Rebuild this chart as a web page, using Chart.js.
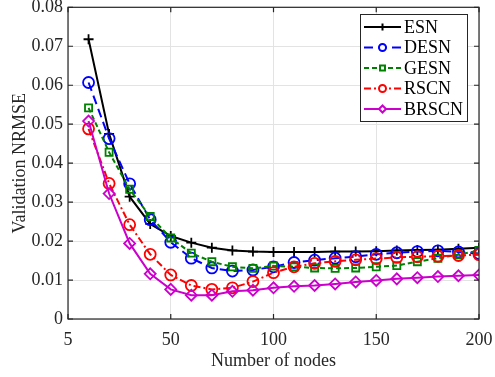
<!DOCTYPE html>
<html><head><meta charset="utf-8">
<script src="https://cdn.jsdelivr.net/npm/chart.js@4/dist/chart.umd.min.js"></script>
<style>html,body{margin:0;padding:0;background:#fff;}#wrap{width:495px;height:377px;}</style>
</head><body><div id="wrap"><canvas id="c" width="495" height="377"></canvas></div>
<script>
const nodes = [10,20,30,40,50,60,70,80,90,100,110,120,130,140,150,160,170,180,190,200];
const esn   = [0.0718,0.0475,0.0314,0.0244,0.0213,0.0196,0.0183,0.0176,0.0173,0.0172,0.0172,0.0172,0.0173,0.0173,0.0174,0.0176,0.0177,0.0178,0.0180,0.0183];
const desn  = [0.0607,0.0463,0.0347,0.0255,0.0197,0.0156,0.0131,0.0123,0.0126,0.0134,0.0145,0.0151,0.0156,0.0160,0.0166,0.0170,0.0173,0.0175,0.0172,0.0168];
const gesn  = [0.0542,0.0428,0.0333,0.0263,0.0208,0.0169,0.0147,0.0134,0.0130,0.0136,0.0134,0.0131,0.0130,0.0131,0.0134,0.0137,0.0147,0.0156,0.0165,0.0176];
const rscn  = [0.0488,0.0348,0.0242,0.0166,0.0113,0.0086,0.0076,0.0080,0.0096,0.0119,0.0134,0.0143,0.0148,0.0152,0.0155,0.0158,0.0160,0.0161,0.0163,0.0165];
const brscn = [0.0508,0.0322,0.0194,0.0116,0.0076,0.0061,0.0061,0.0071,0.0074,0.0080,0.0084,0.0086,0.0090,0.0095,0.0099,0.0103,0.0106,0.0109,0.0111,0.0113];
const seriesNames = ['ESN','DESN','GESN','RSCN','BRSCN'];
const xTickValues = [0,50,100,150,200];
const xTickLabels = ['5','50','100','150','200'];
const yTickValues = [0,0.01,0.02,0.03,0.04,0.05,0.06,0.07,0.08];
const yTickLabels = ['0','0.01','0.02','0.03','0.04','0.05','0.06','0.07','0.08'];

const FONT = '"Liberation Serif", "Times New Roman", serif';
const AX = '#262626';
const pts = arr => arr.map((v,i)=>({x:nodes[i], y:v}));

const styles = [
  {color:'#000000', dash:[], pointStyle:'cross', r:5, order:5},
  {color:'#0000ff', dash:[9,5], pointStyle:'circle', r:5.5, order:4},
  {color:'#008000', dash:[5,3], pointStyle:'rect', r:5, order:3},
  {color:'#ff0000', dash:[7,3,2,3], pointStyle:'circle', r:5.5, order:2},
  {color:'#cc00cc', dash:[], pointStyle:'rectRot', r:5.5, order:1}
];
const values = [esn, desn, gesn, rscn, brscn];
const datasets = values.map((v,i)=>({
  label: seriesNames[i], data: pts(v),
  borderColor: styles[i].color, backgroundColor: '#ffffff',
  borderWidth: 2, borderDash: styles[i].dash,
  pointStyle: styles[i].pointStyle, pointRadius: styles[i].r,
  pointBorderWidth: 1.8, pointBorderColor: styles[i].color,
  pointBackgroundColor: 'rgba(255,255,255,0)', tension: 0, order: styles[i].order
}));

const framePlugin = {
  id: 'frame',
  afterDraw(chart) {
    const {ctx, chartArea: a, scales: {x, y}} = chart;
    ctx.save();
    ctx.strokeStyle = AX; ctx.lineWidth = 1.2; ctx.setLineDash([]);
    ctx.strokeRect(a.left, a.top, a.right - a.left, a.bottom - a.top);
    const L = 5;
    ctx.beginPath();
    xTickValues.forEach(v => {
      const px = x.getPixelForValue(v);
      ctx.moveTo(px, a.bottom); ctx.lineTo(px, a.bottom - L);
      ctx.moveTo(px, a.top); ctx.lineTo(px, a.top + L);
    });
    yTickValues.forEach(v => {
      const py = y.getPixelForValue(v);
      ctx.moveTo(a.left, py); ctx.lineTo(a.left + L, py);
      ctx.moveTo(a.right, py); ctx.lineTo(a.right - L, py);
    });
    ctx.stroke();
    // legend
    const bx = 360, by = 14, bw = 107, bh = 107;
    ctx.fillStyle = '#fff';
    ctx.fillRect(bx, by, bw, bh);
    ctx.strokeStyle = AX; ctx.lineWidth = 1;
    ctx.strokeRect(bx + 0.5, by + 0.5, bw, bh);
    const rowH = 20.5;
    chart.data.datasets.forEach((ds, i) => {
      const cy = by + 13 + i * rowH;
      ctx.strokeStyle = ds.borderColor; ctx.lineWidth = 2;
      ctx.setLineDash(ds.borderDash);
      ctx.beginPath(); ctx.moveTo(bx + 4, cy); ctx.lineTo(bx + 41, cy); ctx.stroke();
      ctx.setLineDash([]);
      ctx.fillStyle = '#fff';
      ctx.lineWidth = 2;
      Chart.helpers.drawPoint(ctx, {pointStyle: ds.pointStyle, radius: 3.5, borderWidth: 2, rotation: 0}, bx + 22.5, cy);
      ctx.fillStyle = '#000';
      ctx.font = '18px ' + FONT;
      ctx.textBaseline = 'middle'; ctx.textAlign = 'left';
      ctx.fillText(ds.label, bx + 44, cy + 1);
    });
    ctx.restore();
  }
};

new Chart(document.getElementById('c'), {
  type: 'line',
  data: { datasets },
  options: {
    responsive: false, animation: false, devicePixelRatio: 1,
    layout: { padding: { top: 4, right: 16, left: 9, bottom: 5 } },
    plugins: { legend: { display: false }, tooltip: { enabled: false } },
    scales: {
      x: {
        type: 'linear', min: 0, max: 200,
        afterBuildTicks: s => { s.ticks = xTickValues.map(v => ({value: v})); },
        afterFit: s => { s.height = 53; s.paddingLeft = 0; s.paddingRight = 0; },
        ticks: { callback: (v) => xTickLabels[xTickValues.indexOf(v)], color: '#262626',
                 font: { family: FONT, size: 18 }, padding: 10, maxRotation: 0 },
        grid: { color: '#e3e3e3', lineWidth: 1, drawTicks: false },
        border: { display: false },
        title: { display: true, text: 'Number of nodes', color: '#262626',
                 font: { family: FONT, size: 18 }, padding: { top: 0, bottom: 0 } }
      },
      y: {
        type: 'linear', min: 0, max: 0.08,
        afterBuildTicks: s => { s.ticks = yTickValues.map(v => ({value: v})); },
        afterFit: s => { s.width = 59; s.paddingTop = 0; s.paddingBottom = 0; },
        ticks: { callback: (v) => yTickLabels[yTickValues.findIndex(t => Math.abs(t - v) < 1e-9)], color: '#262626',
                 font: { family: FONT, size: 18 }, padding: 5 },
        grid: { color: '#e3e3e3', lineWidth: 1, drawTicks: false },
        border: { display: false },
        title: { display: true, text: 'Validation NRMSE', color: '#262626',
                 font: { family: FONT, size: 18 }, padding: { top: 0, bottom: 2 } }
      }
    }
  },
  plugins: [framePlugin]
});
</script></body></html>
